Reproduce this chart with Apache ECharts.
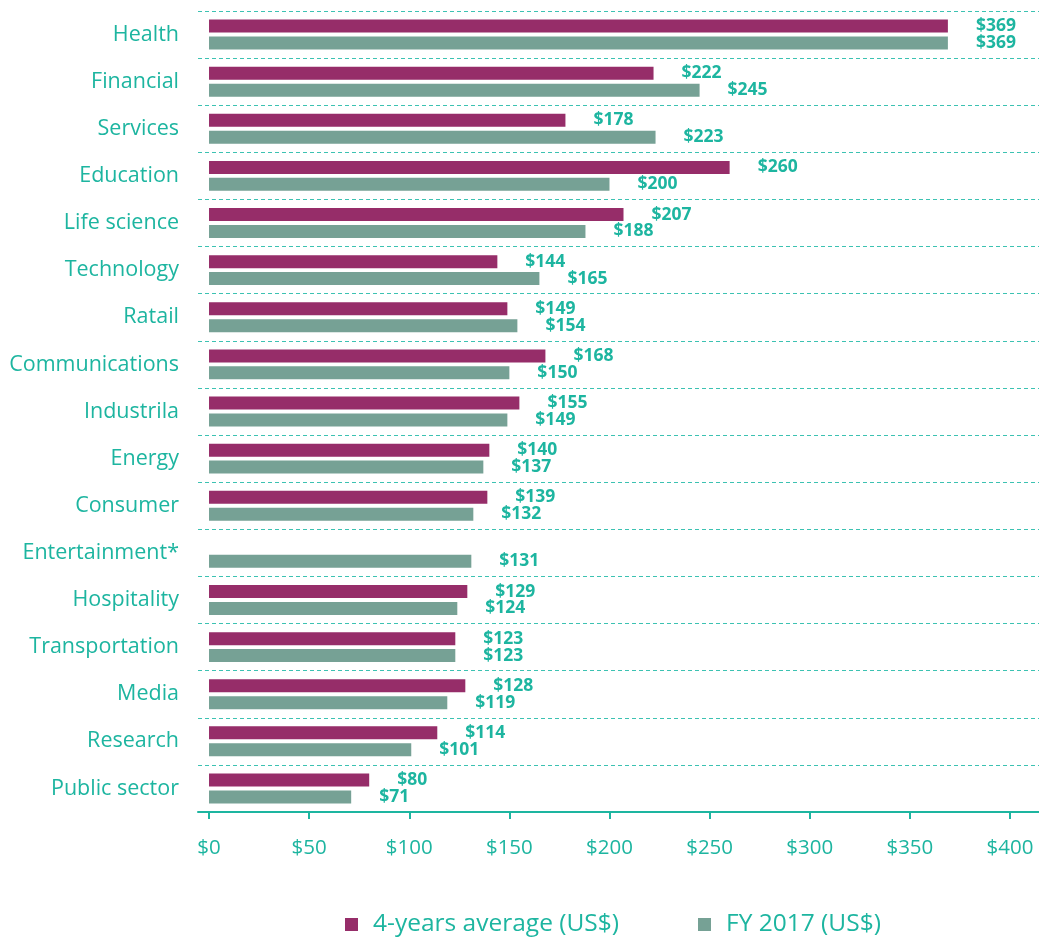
<!DOCTYPE html>
<html>
<head>
<meta charset="utf-8">
<script src="https://cdn.jsdelivr.net/npm/echarts@6/dist/echarts.min.js"></script>
<style>
  html, body { margin: 0; padding: 0; background: #ffffff; }
  #chart { width: 1039px; height: 940px; }
</style>
</head>
<body>
<div id="chart"></div>
<script>
// Sectors, top to bottom
const categories = [
  'Health', 'Financial', 'Services', 'Education', 'Life science', 'Technology',
  'Ratail', 'Communications', 'Industrila', 'Energy', 'Consumer', 'Entertainment*',
  'Hospitality', 'Transportation', 'Media', 'Research', 'Public sector'
];
// Cost per record, US$
const avgFourYears = [369, 222, 178, 260, 207, 144, 149, 168, 155, 140, 139, null, 129, 123, 128, 114, 80];
const fy2017 = [369, 245, 223, 200, 188, 165, 154, 150, 149, 137, 132, 131, 124, 123, 119, 101, 71];
const tickValues = [0, 50, 100, 150, 200, 250, 300, 350, 400];
const seriesNames = ['4-years average (US$)', 'FY 2017 (US$)'];

const TEAL = '#1db5a0';
const FONT = '"Open Sans", "Noto Sans", sans-serif';

const chart = echarts.init(document.getElementById('chart'), null, { renderer: 'canvas' });

const valueLabel = {
  show: true,
  position: 'right',
  distance: 28,
  color: TEAL,
  fontFamily: FONT,
  fontWeight: 'bold',
  fontSize: 17.5,
  formatter: p => '$' + p.value
};

chart.setOption({
  animation: false,
  textStyle: { fontFamily: FONT },
  grid: { left: 198, right: 0, top: 11, bottom: 128, containLabel: false },
  legend: {
    bottom: -2,
    left: 340,
    itemWidth: 13,
    itemHeight: 13,
    itemGap: 79,
    icon: 'rect',
    textStyle: { color: TEAL, fontSize: 24.5, fontFamily: FONT, padding: [0, 0, 0, 10] },
    data: seriesNames
  },
  xAxis: {
    type: 'value',
    min: -5.5,
    max: 414.5,
    axisLine: { show: true, lineStyle: { color: TEAL, width: 2 } },
    axisTick: { show: true, length: 7, lineStyle: { color: TEAL, width: 2 }, customValues: tickValues },
    axisLabel: {
      color: TEAL, fontSize: 20.5, margin: 26, fontFamily: FONT,
      customValues: tickValues,
      formatter: v => '$' + v
    },
    splitLine: { show: false }
  },
  yAxis: {
    type: 'category',
    data: categories,
    inverse: true,
    axisLine: { show: false },
    axisTick: { show: false },
    axisLabel: { color: TEAL, fontSize: 21.5, margin: 19, fontFamily: FONT },
    splitLine: { show: true, lineStyle: { color: '#3cc2b2', type: [4, 3], width: 1 } }
  },
  series: [
    {
      name: seriesNames[0],
      type: 'bar',
      data: avgFourYears,
      barWidth: 13,
      barGap: '30%',
      itemStyle: { color: '#962d69' },
      label: valueLabel
    },
    {
      name: seriesNames[1],
      type: 'bar',
      data: fy2017,
      barWidth: 13,
      barGap: '30%',
      itemStyle: { color: '#76a195' },
      label: valueLabel
    }
  ]
});
</script>
</body>
</html>
